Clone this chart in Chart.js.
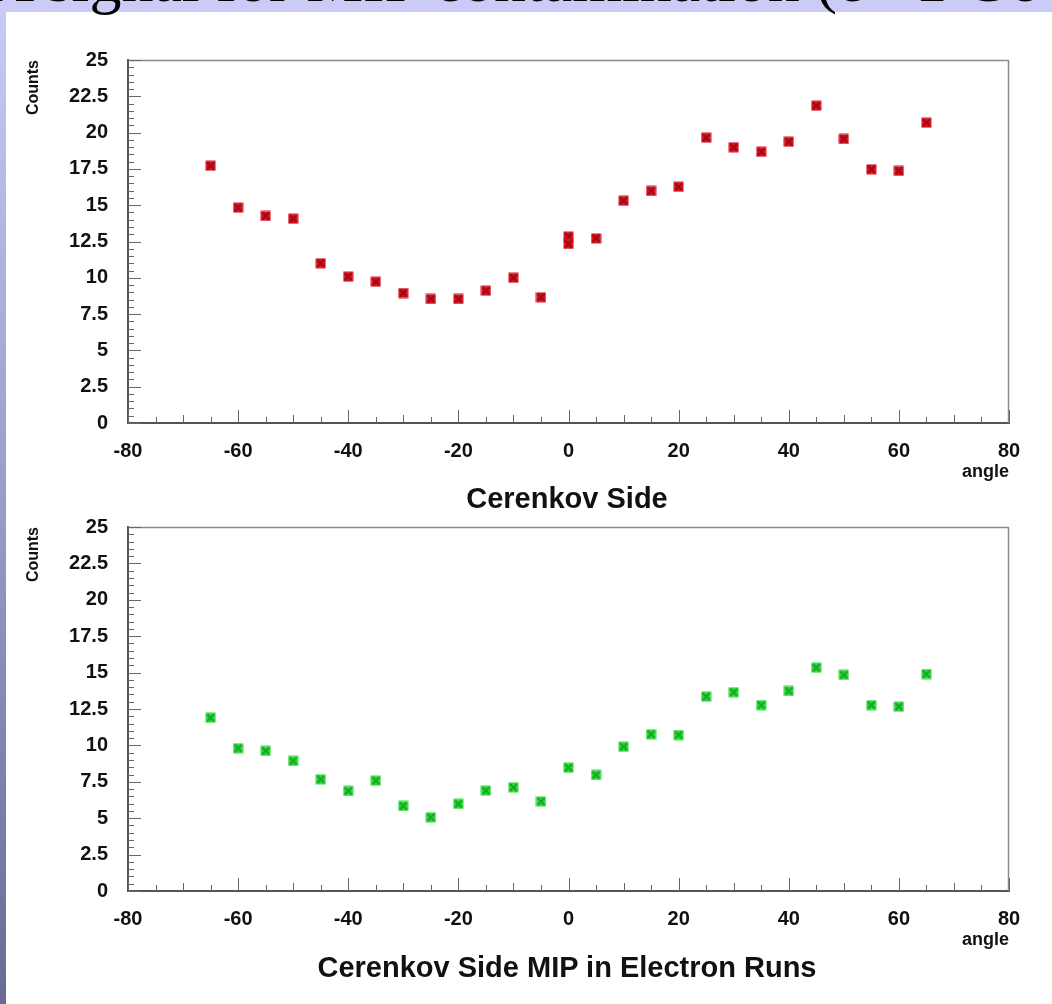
<!DOCTYPE html>
<html>
<head>
<meta charset="utf-8">
<script src="https://cdn.jsdelivr.net/npm/chart.js@4.4.1/dist/chart.umd.min.js"></script>
<style>
  html, body { margin: 0; padding: 0; background: #fff; }
  body { width: 1052px; height: 1004px; position: relative; overflow: hidden; }
  #band { position: absolute; left: 0; top: 0; width: 1052px; height: 12px; background: #cbcbf7; }
  #slideTitle { position: absolute; left: -12px; top: -52px; white-space: nowrap;
    font-family: "Liberation Serif", "DejaVu Serif", serif; font-size: 64px; line-height: 64px; color: #000; }
  #leftbar { position: absolute; left: 0; top: 12px; width: 6px; height: 992px;
    background: linear-gradient(to bottom, #c9c9f3, #9a9acb 50%, #6a6a92); }
  canvas { position: absolute; left: 0; }
  #c1 { top: 0; }
  #c2 { top: 500px; }
  .cap { position: absolute; left: 0; width: 1134px; text-align: center;
    font-family: "Liberation Sans", Arial, sans-serif; font-weight: bold; font-size: 29px; color: #111; }
</style>
</head>
<body>
<div id="band"></div>
<div id="slideTitle">A signal for MIP contamination (e⁻ 1 GeV)</div>
<div id="leftbar"></div>
<canvas id="c1" width="1052" height="500"></canvas>
<canvas id="c2" width="1052" height="504"></canvas>
<div class="cap" style="top:482px;">Cerenkov Side</div>
<div class="cap" style="top:951px;">Cerenkov Side MIP in Electron Runs</div>
<script>
// ---- data ----
const topAngles  = [-65,-60,-55,-50,-45,-40,-35,-30,-25,-20,-15,-10,-5,0,0,5,10,15,20,25,30,35,40,45,50,55,60,65];
const topCounts  = [17.72,14.83,14.26,14.07,11.0,10.08,9.73,8.95,8.54,8.54,9.11,10.0,8.66,12.84,12.33,12.71,15.31,15.98,16.27,19.65,18.99,18.68,19.37,21.85,19.56,17.47,17.36,20.68];
const botAngles  = [-65,-60,-55,-50,-45,-40,-35,-30,-25,-20,-15,-10,-5,0,5,10,15,20,25,30,35,40,45,50,55,60,65];
const botCounts  = [11.9,9.8,9.62,8.93,7.67,6.87,7.58,5.84,5.06,5.98,6.89,7.12,6.15,8.47,7.97,9.91,10.76,10.71,13.35,13.65,12.77,13.74,15.34,14.84,12.77,12.66,14.9];
const xRange = [-80, 80];
const yRange = [0, 25];
const xMajorStep = 20, xMinorStep = 5;
const yMajorStep = 2.5, yMinorStep = 0.5;
const yTitle = 'Counts';
const xTitle = 'angle';

function marker(fill, dark) {
  const c = document.createElement('canvas');
  c.width = 11; c.height = 11;
  const g = c.getContext('2d');
  g.fillStyle = fill;
  g.fillRect(0.5, 0.5, 10, 10);
  g.strokeStyle = dark; g.lineWidth = 2;
  g.beginPath();
  g.moveTo(2, 2); g.lineTo(9, 9);
  g.moveTo(9, 2); g.lineTo(2, 9);
  g.stroke();
  return c;
}

const frameTicks = {
  id: 'frameTicks',
  beforeDatasetsDraw(chart) {
    const {ctx, chartArea: a, scales: {x, y}} = chart;
    ctx.save();
    ctx.strokeStyle = '#8a8a8a';
    ctx.lineWidth = 1.5;
    ctx.beginPath();
    ctx.moveTo(a.left, a.top + 0.5); ctx.lineTo(a.right, a.top + 0.5);
    ctx.moveTo(a.right - 0.5, a.top); ctx.lineTo(a.right - 0.5, a.bottom);
    ctx.stroke();
    ctx.strokeStyle = '#666';
    ctx.lineWidth = 1;
    ctx.beginPath();
    const nY = Math.round((yRange[1] - yRange[0]) / yMinorStep);
    for (let i = 0; i <= nY; i++) {
      const v = yRange[0] + i * yMinorStep;
      const py = Math.round(y.getPixelForValue(v)) + 0.5;
      const major = Math.abs(v / yMajorStep - Math.round(v / yMajorStep)) < 1e-6;
      const len = major ? 13 : 6;
      ctx.moveTo(a.left, py); ctx.lineTo(a.left + len, py);
    }
    const nX = Math.round((xRange[1] - xRange[0]) / xMinorStep);
    for (let i = 0; i <= nX; i++) {
      const v = xRange[0] + i * xMinorStep;
      const px = Math.round(x.getPixelForValue(v)) + 0.5;
      const len = (v % xMajorStep === 0) ? 13 : (v % 10 === 0 ? 8 : 6);
      ctx.moveTo(px, a.bottom); ctx.lineTo(px, a.bottom - len);
    }
    ctx.stroke();
    ctx.restore();
  }
};

function makeChart(id, xs, ys, fill, dark, padTop, padBottom) {
  const pts = xs.map((v, i) => ({x: v, y: ys[i]}));
  return new Chart(document.getElementById(id), {
    type: 'scatter',
    data: { datasets: [{ data: pts, pointStyle: marker(fill, dark), pointRadius: 6, pointHoverRadius: 6,
      backgroundColor: fill, borderColor: dark, showLine: false }] },
    options: {
      responsive: false, animation: false, devicePixelRatio: 1,
      layout: { padding: { left: 0, right: 43, top: padTop, bottom: padBottom } },
      plugins: { legend: { display: false }, tooltip: { enabled: false } },
      scales: {
        x: {
          type: 'linear', min: xRange[0], max: xRange[1],
          afterFit: s => { s.height = 60; },
          grid: { display: false },
          border: { display: true, color: '#555', width: 2 },
          ticks: { stepSize: xMajorStep, padding: 8, color: '#111',
            font: { family: 'Liberation Sans', weight: 'bold', size: 20 } },
          title: { display: true, text: xTitle, align: 'end', color: '#111',
            padding: { top: 0, bottom: 0 },
            font: { family: 'Liberation Sans', weight: 'bold', size: 18 } }
        },
        y: {
          type: 'linear', min: yRange[0], max: yRange[1],
          afterFit: s => { s.width = 128; },
          grid: { display: false },
          border: { display: true, color: '#555', width: 2 },
          ticks: { stepSize: yMajorStep, padding: 12, color: '#111',
            font: { family: 'Liberation Sans', weight: 'bold', size: 20 } },
          title: { display: true, text: yTitle, align: 'end', color: '#111',
            padding: { top: 24, bottom: 0 },
            font: { family: 'Liberation Sans', weight: 'bold', size: 16 } }
        }
      }
    },
    plugins: [frameTicks]
  });
}

makeChart('c1', topAngles, topCounts, '#dd1424', '#9a0a14', 60, 17);
makeChart('c2', botAngles, botCounts, '#2fdc3c', '#18a424', 27, 53);
</script>
</body>
</html>
